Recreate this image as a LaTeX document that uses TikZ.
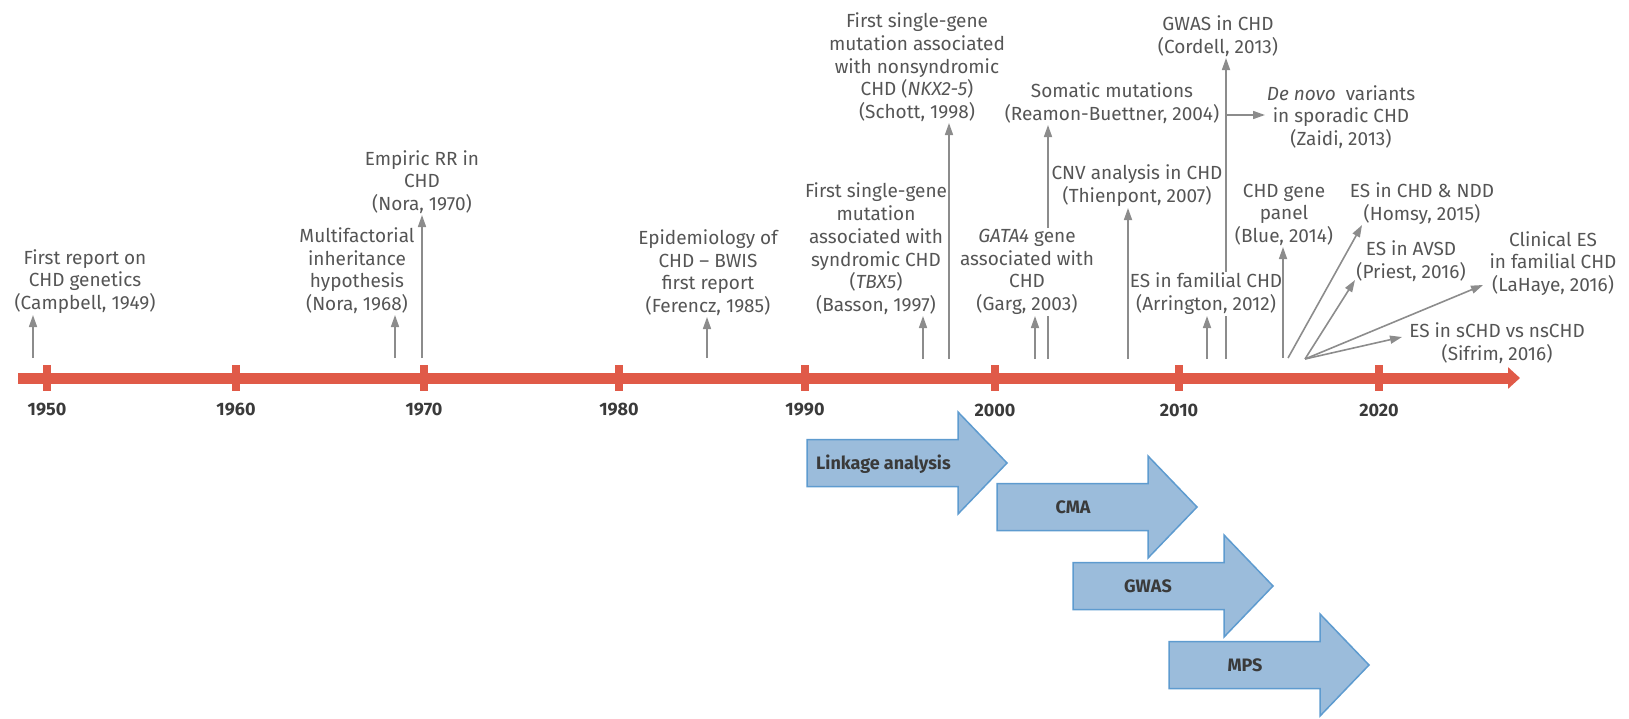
\documentclass[tikz,border=0pt]{standalone}
\usepackage{fontspec}
\setmainfont{Fira Sans}
\usetikzlibrary{arrows.meta}
\definecolor{barred}{HTML}{E05A48}
\definecolor{evgray}{HTML}{8C8C8C}
\definecolor{evtext}{HTML}{555555}
\definecolor{yeartext}{HTML}{3A3A3A}
\definecolor{phasefill}{HTML}{9BBCDB}
\definecolor{phaseline}{HTML}{5E9BCF}
\definecolor{phasetext}{HTML}{3A3A3A}
\newcommand\phasearrow[2]{%
  \draw[phase] (#1,#2-23.5) -- ++(151,0) -- ++(0,-27.5) -- (#1+200,#2) -- (#1+151,#2+51) -- ++(0,-27.5) -- (#1,#2+23.5) -- cycle;}
\begin{document}
\begin{tikzpicture}[x=1pt,y=-1pt,
  evtxt/.style={align=center, inner sep=1pt, text=evtext, font=\fontsize{19}{22.8}\selectfont, anchor=south},
  ev/.style={draw=evgray, line width=1.6pt, -{Triangle[length=12pt,width=8pt]}},
  evline/.style={draw=evgray, line width=1.6pt},
  yearlbl/.style={font=\fontsize{18}{20}\selectfont\bfseries, text=yeartext},
  yeartick/.style={draw=barred, line width=8pt},
  phase/.style={fill=phasefill, draw=phaseline, line width=1.5pt, line join=miter},
  phaselbl/.style={font=\fontsize{18}{20}\selectfont\bfseries, text=phasetext, inner sep=0pt, anchor=base}
]
\useasboundingbox (0,0) rectangle (1629,718);

% timeline
\draw[barred, line width=11pt, -{Triangle[length=12pt,width=21pt]}] (18,378) -- (1520,378);
\foreach \x/\yr in {47/1950,236/1960,424/1970,619/1980,805/1990,995/2000,1179/2010,1379/2020}{
  \draw[yeartick] (\x,365) -- (\x,391);
  \node[yearlbl] (y\yr) at (\x,410) {\yr};
}

% events
\node[evtxt] (campbell) at (85,315) {First report on\\CHD genetics\\(Campbell, 1949)};
\coordinate (bcampbell) at (33,358);
\draw[ev] (bcampbell) -- (bcampbell |- campbell.south);

\node[evtxt] (nora68) at (357,315) {Multifactorial\\inheritance\\hypothesis\\(Nora, 1968)};
\coordinate (bnora68) at (395,358);
\draw[ev] (bnora68) -- (bnora68 |- nora68.south);

\node[evtxt] (nora70) at (422,215) {Empiric RR in\\CHD\\(Nora, 1970)};
\coordinate (bnora70) at (422,358);
\draw[ev] (bnora70) -- (bnora70 |- nora70.south);

\node[evtxt] (ferencz) at (708,317) {Epidemiology of\\CHD – BWIS\\first report\\(Ferencz, 1985)};
\coordinate (bferencz) at (707,358);
\draw[ev] (bferencz) -- (bferencz |- ferencz.south);

\node[evtxt] (basson) at (876,316) {First single-gene\\mutation\\associated with\\syndromic CHD\\(\textit{TBX5})\\(Basson, 1997)};
\coordinate (bbasson) at (923,359);
\draw[ev] (bbasson) -- (bbasson |- basson.south);

\node[evtxt] (schott) at (917,123) {First single-gene\\mutation associated\\with nonsyndromic\\CHD (\textit{NKX2-5})\\(Schott, 1998)};
\coordinate (bschott) at (949,359);
\draw[ev] (bschott) -- (bschott |- schott.south);

\node[evtxt] (garg) at (1027,316) {\textit{GATA4} gene\\associated with\\CHD\\(Garg, 2003)};
\coordinate (bgarg) at (1035,359);
\draw[ev] (bgarg) -- (bgarg |- garg.south);

\node[evtxt] (reamon) at (1112,125) {Somatic mutations\\(Reamon-Buettner, 2004)};
\coordinate (breamon) at (1048,359);
\draw[evline] (breamon) -- (breamon |- garg.south);
\draw[ev] (breamon |- garg.north) -- (breamon |- reamon.south);

\node[evtxt] (thienpont) at (1137,208) {CNV analysis in CHD\\(Thienpont, 2007)};
\coordinate (bthienpont) at (1128,359);
\draw[ev] (bthienpont) -- (bthienpont |- thienpont.south);

\node[evtxt] (arrington) at (1206,316) {ES in familial CHD\\(Arrington, 2012)};
\coordinate (barrington) at (1207,359);
\draw[ev] (barrington) -- (barrington |- arrington.south);

\node[evtxt] (cordell) at (1218,58) {GWAS in CHD\\(Cordell, 2013)};
\coordinate (bcordell) at (1226,359);
\draw[evline] (bcordell) -- (bcordell |- arrington.south);
\draw[ev] (bcordell |- arrington.north) -- (bcordell |- cordell.south);

\node[evtxt] (zaidi) at (1341,150) {\textit{De novo}\ \ variants\\in sporadic CHD\\(Zaidi, 2013)};
\coordinate (zbranch) at (1226,115);
\coordinate (ztip) at (1265,115);
\draw[ev] (zbranch) -- (ztip);

\node[evtxt] (blue) at (1284,247) {CHD gene\\panel\\(Blue, 2014)};
\coordinate (bblue) at (1283,358);
\draw[ev] (bblue) -- (bblue |- blue.south);

\node[evtxt] (homsy) at (1422,226) {ES in CHD \& NDD\\(Homsy, 2015)};
\coordinate (bhomsy) at (1288,358);
\coordinate (thomsy) at (1362,225);
\draw[ev] (bhomsy) -- (thomsy);

\coordinate (bfan) at (1305,359);
\node[evtxt] (priest) at (1411,283) {ES in AVSD\\(Priest, 2016)};
\coordinate (tpriest) at (1355,280);
\draw[ev] (bfan) -- (tpriest);

\node[evtxt] (lahaye) at (1553,297) {Clinical ES\\in familial CHD\\(LaHaye, 2016)};
\coordinate (tlahaye) at (1483,285);
\draw[ev] (bfan) -- (tlahaye);

\node[evtxt] (sifrim) at (1497,365) {ES in sCHD vs nsCHD\\(Sifrim, 2016)};
\coordinate (tsifrim) at (1402,337);
\draw[ev] (bfan) -- (tsifrim);

% phases
\phasearrow{807}{463}
\node[phaselbl, anchor=base west] (linkage) at (816,469.5) {Linkage analysis};
\phasearrow{997}{507}
\node[phaselbl] (cma) at (1073,513.5) {CMA};
\phasearrow{1073}{586}
\node[phaselbl] (gwas) at (1148,592.5) {GWAS};
\phasearrow{1169}{665}
\node[phaselbl] (mps) at (1245,671.5) {MPS};
\end{tikzpicture}
\end{document}
